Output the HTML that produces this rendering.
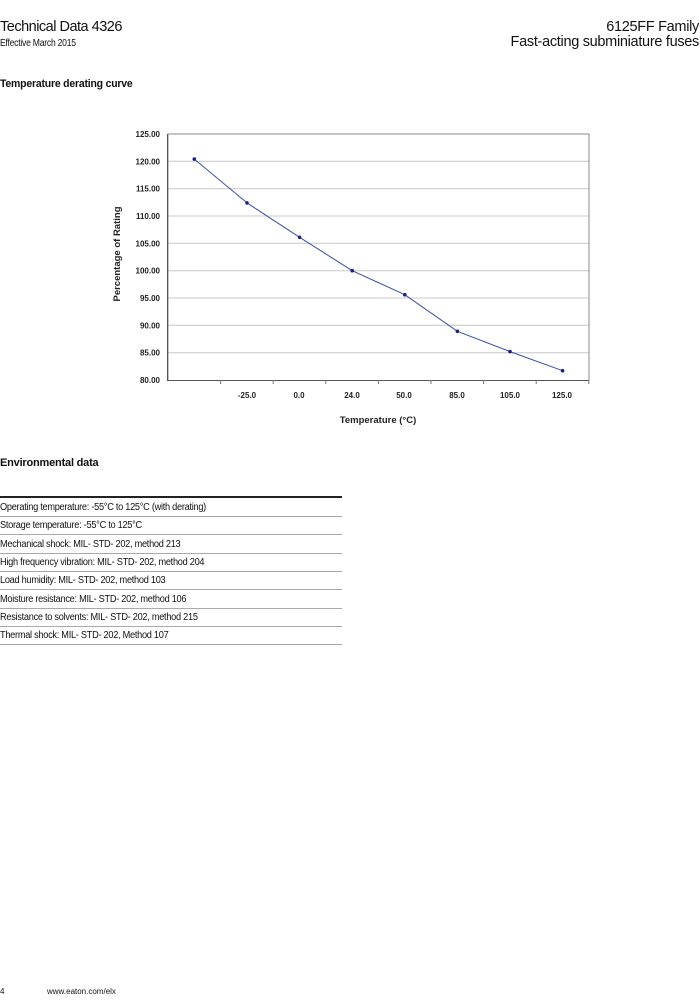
<!DOCTYPE html>
<html><head><meta charset="utf-8"><style>
body{margin:0;background:#fff;width:700px;height:1007px;position:relative;font-family:"Liberation Sans",sans-serif;color:#111;overflow:hidden}
.a{position:absolute;white-space:nowrap}
.row{position:absolute;left:0;width:372px;height:18px;border-bottom:1px solid #aaa;font-size:10px;line-height:19px;letter-spacing:-0.3px;transform:scaleX(0.92);transform-origin:left}
</style></head><body>
<div class="a" style="left:0;top:19px;font-size:14.5px;letter-spacing:-0.5px">Technical Data 4326</div>
<div class="a" style="left:0;top:37px;font-size:10.5px;letter-spacing:-0.3px;transform:scaleX(0.82);transform-origin:left">Effective March 2015</div>
<div class="a" style="right:1px;top:19px;font-size:14.5px;letter-spacing:-0.3px">6125FF Family</div>
<div class="a" style="right:1px;top:34px;font-size:14.5px;letter-spacing:-0.3px">Fast-acting subminiature fuses</div>
<div class="a" style="left:0;top:78px;font-size:11px;font-weight:bold;letter-spacing:-0.2px;transform:scaleX(0.95);transform-origin:left">Temperature derating curve</div>
<svg class="a" style="left:0;top:0" width="700" height="440" font-family="Liberation Sans,sans-serif">
<g stroke="#c8c8c8" stroke-width="1">
<line x1="168" x2="589" y1="161.3" y2="161.3"/><line x1="168" x2="589" y1="188.7" y2="188.7"/><line x1="168" x2="589" y1="216" y2="216"/><line x1="168" x2="589" y1="243.3" y2="243.3"/><line x1="168" x2="589" y1="270.7" y2="270.7"/><line x1="168" x2="589" y1="298" y2="298"/><line x1="168" x2="589" y1="325.3" y2="325.3"/><line x1="168" x2="589" y1="352.7" y2="352.7"/>
</g>
<rect x="168" y="134" width="421" height="246.5" fill="none" stroke="#888" stroke-width="1"/>
<line x1="167.5" y1="134" x2="167.5" y2="381" stroke="#555"/>
<line x1="167" y1="380.5" x2="589" y2="380.5" stroke="#555"/>
<g stroke="#777"><line x1="220.6" x2="220.6" y1="380" y2="384"/><line x1="273.2" x2="273.2" y1="380" y2="384"/><line x1="325.8" x2="325.8" y1="380" y2="384"/><line x1="378.4" x2="378.4" y1="380" y2="384"/><line x1="431" x2="431" y1="380" y2="384"/><line x1="483.6" x2="483.6" y1="380" y2="384"/><line x1="536.2" x2="536.2" y1="380" y2="384"/><line x1="588.8" x2="588.8" y1="380" y2="384"/></g>
<g font-size="8" font-weight="bold" text-anchor="end" fill="#222">
<text x="160" y="137">125.00</text><text x="160" y="164.3">120.00</text><text x="160" y="191.7">115.00</text><text x="160" y="219">110.00</text><text x="160" y="246.3">105.00</text><text x="160" y="273.7">100.00</text><text x="160" y="301">95.00</text><text x="160" y="328.3">90.00</text><text x="160" y="355.7">85.00</text><text x="160" y="383">80.00</text>
</g>
<g font-size="8" font-weight="bold" text-anchor="middle" fill="#222">
<text x="247" y="398">-25.0</text><text x="299" y="398">0.0</text><text x="352" y="398">24.0</text><text x="404" y="398">50.0</text><text x="457" y="398">85.0</text><text x="510" y="398">105.0</text><text x="562" y="398">125.0</text>
</g>
<text x="378" y="423" font-size="9.5" font-weight="bold" text-anchor="middle" fill="#222">Temperature (°C)</text>
<text transform="translate(120,254) rotate(-90)" font-size="9.5" font-weight="bold" text-anchor="middle" fill="#222">Percentage of Rating</text>
<polyline fill="none" stroke="#3a4fa8" stroke-width="1" points="194.3,159.1 247,202.9 299.6,237.3 352.2,270.7 404.8,294.7 457.4,331.3 510,351.6 562.6,370.7"/>
<g fill="#1a237e">
<circle cx="194.3" cy="159.1" r="1.8"/><circle cx="247" cy="202.9" r="1.8"/><circle cx="299.6" cy="237.3" r="1.8"/><circle cx="352.2" cy="270.7" r="1.8"/><circle cx="404.8" cy="294.7" r="1.8"/><circle cx="457.4" cy="331.3" r="1.8"/><circle cx="510" cy="351.6" r="1.8"/><circle cx="562.6" cy="370.7" r="1.8"/>
</g>
</svg>
<div class="a" style="left:0;top:457px;font-size:11px;font-weight:bold;letter-spacing:-0.2px">Environmental data</div>
<div class="a" style="left:0;top:496px;width:342px;height:2px;background:#222"></div>
<div class="row" style="top:498px">Operating temperature: -55°C to 125°C (with derating)</div>
<div class="row" style="top:516.3px">Storage temperature: -55°C to 125°C</div>
<div class="row" style="top:534.6px">Mechanical shock: MIL- STD- 202, method 213</div>
<div class="row" style="top:552.9px">High frequency vibration: MIL- STD- 202, method 204</div>
<div class="row" style="top:571.2px">Load humidity: MIL- STD- 202, method 103</div>
<div class="row" style="top:589.5px">Moisture resistance: MIL- STD- 202, method 106</div>
<div class="row" style="top:607.8px">Resistance to solvents: MIL- STD- 202, method 215</div>
<div class="row" style="top:626.1px">Thermal shock: MIL- STD- 202, Method 107</div>
<div class="a" style="left:0;top:987px;font-size:8px">4</div>
<div class="a" style="left:47px;top:987px;font-size:8px">www.eaton.com/elx</div>
</body></html>
